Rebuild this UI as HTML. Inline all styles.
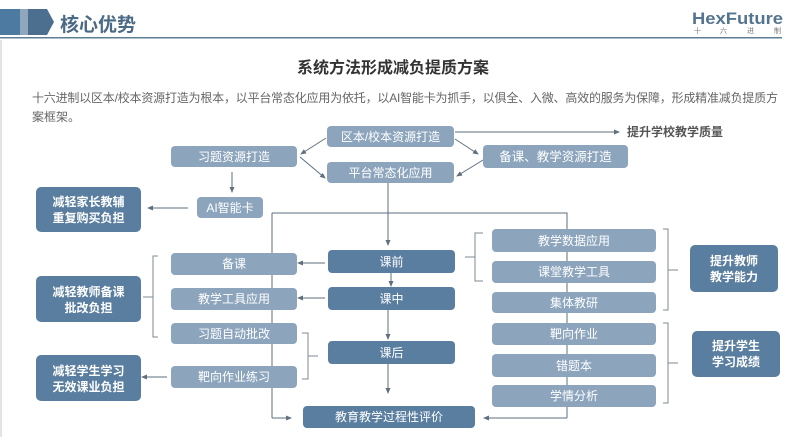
<!DOCTYPE html>
<html>
<head>
<meta charset="utf-8">
<style>
html,body{margin:0;padding:0;background:#fff;}
body{width:789px;height:437px;overflow:hidden;}
svg{display:block;font-family:"Liberation Sans","Noto Sans CJK SC",sans-serif;}
</style>
</head>
<body>
<svg width="789" height="437" viewBox="0 0 789 437" xmlns="http://www.w3.org/2000/svg">
<defs>
<marker id="ah" markerWidth="6" markerHeight="6" refX="5" refY="3" orient="auto" markerUnits="userSpaceOnUse">
<path d="M0,0.5 L6,3 L0,5.5 z" fill="#5f6f7e"/>
</marker>
</defs>
<rect x="0" y="0" width="789" height="437" fill="#fff"/>
<rect x="0" y="40" width="2" height="397" fill="#e4e4e4"/>

<!-- header -->
<rect x="0" y="9" width="20" height="26" fill="#4d7aa0"/>
<rect x="20" y="9" width="8" height="26" fill="#8fa6bc"/>
<path d="M28,9 L47,9 L54,22 L47,35 L28,35 z" fill="#4c6f8f"/>
<text x="60" y="31" font-size="19" font-weight="bold" fill="#4a6a86">核心优势</text>
<rect x="0" y="37" width="782" height="1.5" fill="#5d7d95"/>
<text x="692" y="24" font-size="17" font-weight="bold" fill="#55748f" textLength="91" lengthAdjust="spacingAndGlyphs">HexFuture</text>
<g font-size="7" fill="#777">
<text x="694" y="33">十</text><text x="720" y="33">六</text><text x="747" y="33">进</text><text x="774" y="33">制</text>
</g>

<!-- title -->
<text x="393" y="73" font-size="16" font-weight="bold" fill="#333" text-anchor="middle">系统方法形成减负提质方案</text>
<text x="32" y="102" font-size="12" fill="#666" textLength="746" lengthAdjust="spacing">十六进制以区本/校本资源打造为根本，以平台常态化应用为依托，以AI智能卡为抓手，以俱全、入微、高效的服务为保障，形成精准减负提质方</text>
<text x="32" y="121" font-size="12" fill="#666">案框架。</text>

<!-- background lines (behind boxes) -->
<g stroke="#5f6f7e" stroke-width="1" fill="none">
<path d="M272,213 H567 V418"/>
<path d="M272,213 V418"/>
<path d="M272,418 H291" marker-end="url(#ah)"/>
<path d="M567,418 H484" marker-end="url(#ah)"/>
<path d="M388,183 V245" marker-end="url(#ah)"/>
<path d="M391,273 V286" marker-end="url(#ah)"/>
<path d="M388,310 V339" marker-end="url(#ah)"/>
<path d="M388,364 V393" marker-end="url(#ah)"/>
<path d="M325,263 H298" marker-end="url(#ah)"/>
<path d="M325,298 H298" marker-end="url(#ah)"/>
<path d="M167,377 H142" marker-end="url(#ah)"/>
<path d="M188,208 H148" marker-end="url(#ah)"/>
<path d="M232,172 V192" marker-end="url(#ah)"/>
<path d="M455,132 H619" marker-end="url(#ah)"/>
<path d="M326,138 L301,154" marker-end="url(#ah)"/>
<path d="M300,157 L325,178" marker-end="url(#ah)"/>
<path d="M455,139 L478,154" marker-end="url(#ah)"/>
<path d="M483,160 L457,176" marker-end="url(#ah)"/>
</g>

<!-- brackets -->
<g stroke="#7d8892" stroke-width="1" fill="none">
<path d="M158,256 H153 V337 H158 M153,297 H143"/>
<path d="M302,333 H308 V379 H302 M308,356 H318"/>
<path d="M483,233 H475 V281 H483 M475,257 H465"/>
<path d="M663,229 H668 V310 H663 M668,270 H678"/>
<path d="M663,323 H668 V403 H663 M668,363 H678"/>
</g>

<!-- light boxes -->
<g fill="#8ca5bd">
<rect x="327" y="126" width="127" height="21" rx="4"/>
<rect x="327" y="162" width="127" height="21" rx="4"/>
<rect x="483" y="145" width="145" height="23" rx="4"/>
<rect x="171" y="146" width="126" height="21" rx="4"/>
<rect x="197" y="197" width="66" height="21" rx="4"/>
<rect x="171" y="253" width="126" height="22" rx="4"/>
<rect x="171" y="288" width="126" height="22" rx="4"/>
<rect x="171" y="323" width="126" height="21" rx="4"/>
<rect x="171" y="366" width="126" height="22" rx="4"/>
<rect x="492" y="229" width="164" height="23" rx="4"/>
<rect x="492" y="261" width="164" height="22" rx="4"/>
<rect x="492" y="292" width="164" height="21" rx="4"/>
<rect x="492" y="323" width="164" height="22" rx="4"/>
<rect x="492" y="354" width="164" height="23" rx="4"/>
<rect x="492" y="385" width="164" height="22" rx="4"/>
</g>

<!-- dark boxes -->
<g fill="#5a7e9f">
<rect x="328" y="250" width="127" height="23" rx="4"/>
<rect x="328" y="287" width="127" height="23" rx="4"/>
<rect x="328" y="341" width="127" height="23" rx="4"/>
<rect x="303" y="406" width="172" height="22" rx="4"/>
<rect x="36" y="187" width="105" height="45" rx="5"/>
<rect x="36" y="276" width="105" height="46" rx="5"/>
<rect x="36" y="355" width="105" height="46" rx="5"/>
<rect x="690" y="245" width="88" height="47" rx="5"/>
<rect x="692" y="331" width="88" height="46" rx="5"/>
</g>

<!-- light box labels -->
<g font-size="12" fill="#fff" text-anchor="middle">
<text x="390.5" y="141">区本/校本资源打造</text>
<text x="390.5" y="177">平台常态化应用</text>
<text x="555.5" y="161" font-size="12.5">备课、教学资源打造</text>
<text x="234" y="161">习题资源打造</text>
<text x="230" y="212">AI智能卡</text>
<text x="234" y="268">备课</text>
<text x="234" y="303">教学工具应用</text>
<text x="234" y="338">习题自动批改</text>
<text x="234" y="381">靶向作业练习</text>
<text x="574" y="245">教学数据应用</text>
<text x="574" y="276">课堂教学工具</text>
<text x="574" y="307">集体教研</text>
<text x="574" y="338">靶向作业</text>
<text x="574" y="370">错题本</text>
<text x="574" y="400">学情分析</text>
</g>

<!-- dark box labels -->
<g font-size="12" fill="#fff" text-anchor="middle">
<text x="391.5" y="266">课前</text>
<text x="391.5" y="303">课中</text>
<text x="391.5" y="357">课后</text>
<text x="389" y="421">教育教学过程性评价</text>
</g>
<g font-size="12" font-weight="bold" fill="#fff" text-anchor="middle">
<text x="88.5" y="206">减轻家长教辅</text>
<text x="88.5" y="222">重复购买负担</text>
<text x="88.5" y="296">减轻教师备课</text>
<text x="88.5" y="312">批改负担</text>
<text x="88.5" y="375">减轻学生学习</text>
<text x="88.5" y="391">无效课业负担</text>
<text x="734" y="265">提升教师</text>
<text x="734" y="281">教学能力</text>
<text x="736" y="350">提升学生</text>
<text x="736" y="366">学习成绩</text>
</g>

<text x="627" y="136" font-size="12" font-weight="bold" fill="#555">提升学校教学质量</text>
</svg>
</body>
</html>
